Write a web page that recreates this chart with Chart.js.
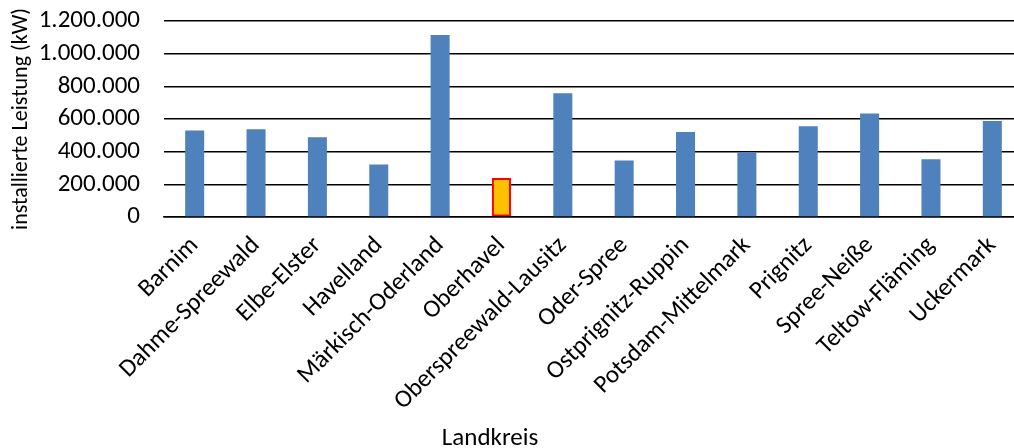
<!DOCTYPE html>
<html lang="de">
<head>
<meta charset="utf-8">
<title>Installierte Leistung je Landkreis</title>
<script src="https://cdn.jsdelivr.net/npm/chart.js@4.4.1/dist/chart.umd.min.js"></script>
<style>
  html, body { margin: 0; padding: 0; background: #fff; overflow: hidden; }
  /* plot runs slightly past the right edge, like the original crop */
  .wrap { position: absolute; left: 0; top: -18px; width: 1024px; height: 466px; }
  .xtitle { position: absolute; left: 440px; width: 100px; top: 422px; text-align: center;
            font: 25px Carlito, Lato, "Open Sans", sans-serif; line-height: 30px; color: #000; }
</style>
</head>
<body>
<div class="wrap"><canvas id="chart"></canvas></div>
<div class="xtitle">Landkreis</div>
<script>
// ======== DATA ========
const landkreise = ['Barnim','Dahme-Spreewald','Elbe-Elster','Havelland','Märkisch-Oderland','Oberhavel',
  'Oberspreewald-Lausitz','Oder-Spree','Ostprignitz-Ruppin','Potsdam-Mittelmark','Prignitz',
  'Spree-Neiße','Teltow-Fläming','Uckermark'];
const leistungKW = [530000, 538000, 489000, 321000, 1115000, 239000,
  757000, 346000, 521000, 397000, 555000, 634000, 354000, 587000];
const yTicks = [0, 200000, 400000, 600000, 800000, 1000000, 1200000];
const hervorgehoben = 'Oberhavel';

// ======== STYLE ========
const FONT = 'Carlito, Lato, "Open Sans", sans-serif';
const BLUE = '#4F81BD';
const fmt = v => String(v).replace(/\B(?=(\d{3})+(?!\d))/g, '.');

Chart.defaults.font.family = FONT;
Chart.defaults.font.size = 25;
Chart.defaults.color = '#000';

const isHl = ctx => landkreise[ctx.dataIndex] === hervorgehoben;

new Chart(document.getElementById('chart'), {
  type: 'bar',
  data: {
    labels: landkreise,
    datasets: [{
      data: leistungKW,
      backgroundColor: ctx => isHl(ctx) ? '#FFC000' : BLUE,
      borderColor: ctx => isHl(ctx) ? '#FF0000' : BLUE,
      borderWidth: ctx => isHl(ctx) ? 2 : 0,
      borderSkipped: false,
      barPercentage: 0.31,
      categoryPercentage: 1
    }]
  },
  options: {
    responsive: true,
    maintainAspectRatio: false,
    animation: false,
    layout: { padding: { top: 0, left: 0, right: 1, bottom: 0 } },
    plugins: { legend: { display: false }, tooltip: { enabled: false } },
    scales: {
      y: {
        min: 0, max: 1200000,
        afterBuildTicks: s => { s.ticks = yTicks.map(v => ({ value: v })); },
        afterFit: s => { s.width = 164; },
        ticks: { padding: 24, autoSkip: false, callback: v => fmt(v) },
        grid: { color: '#000', lineWidth: 1.5, drawTicks: false },
        border: { display: false },
        title: { display: true, text: 'installierte Leistung (kW)', font: { size: 22 },
                 padding: { top: 8, bottom: 0 } }
      },
      x: {
        afterFit: s => { s.height = 231; },
        ticks: { minRotation: 45, maxRotation: 45, padding: 6, autoSkip: false },
        grid: { display: false },
        border: { color: '#000', width: 1.5 },
        title: { display: false }
      }
    }
  }
});
</script>
</body>
</html>
